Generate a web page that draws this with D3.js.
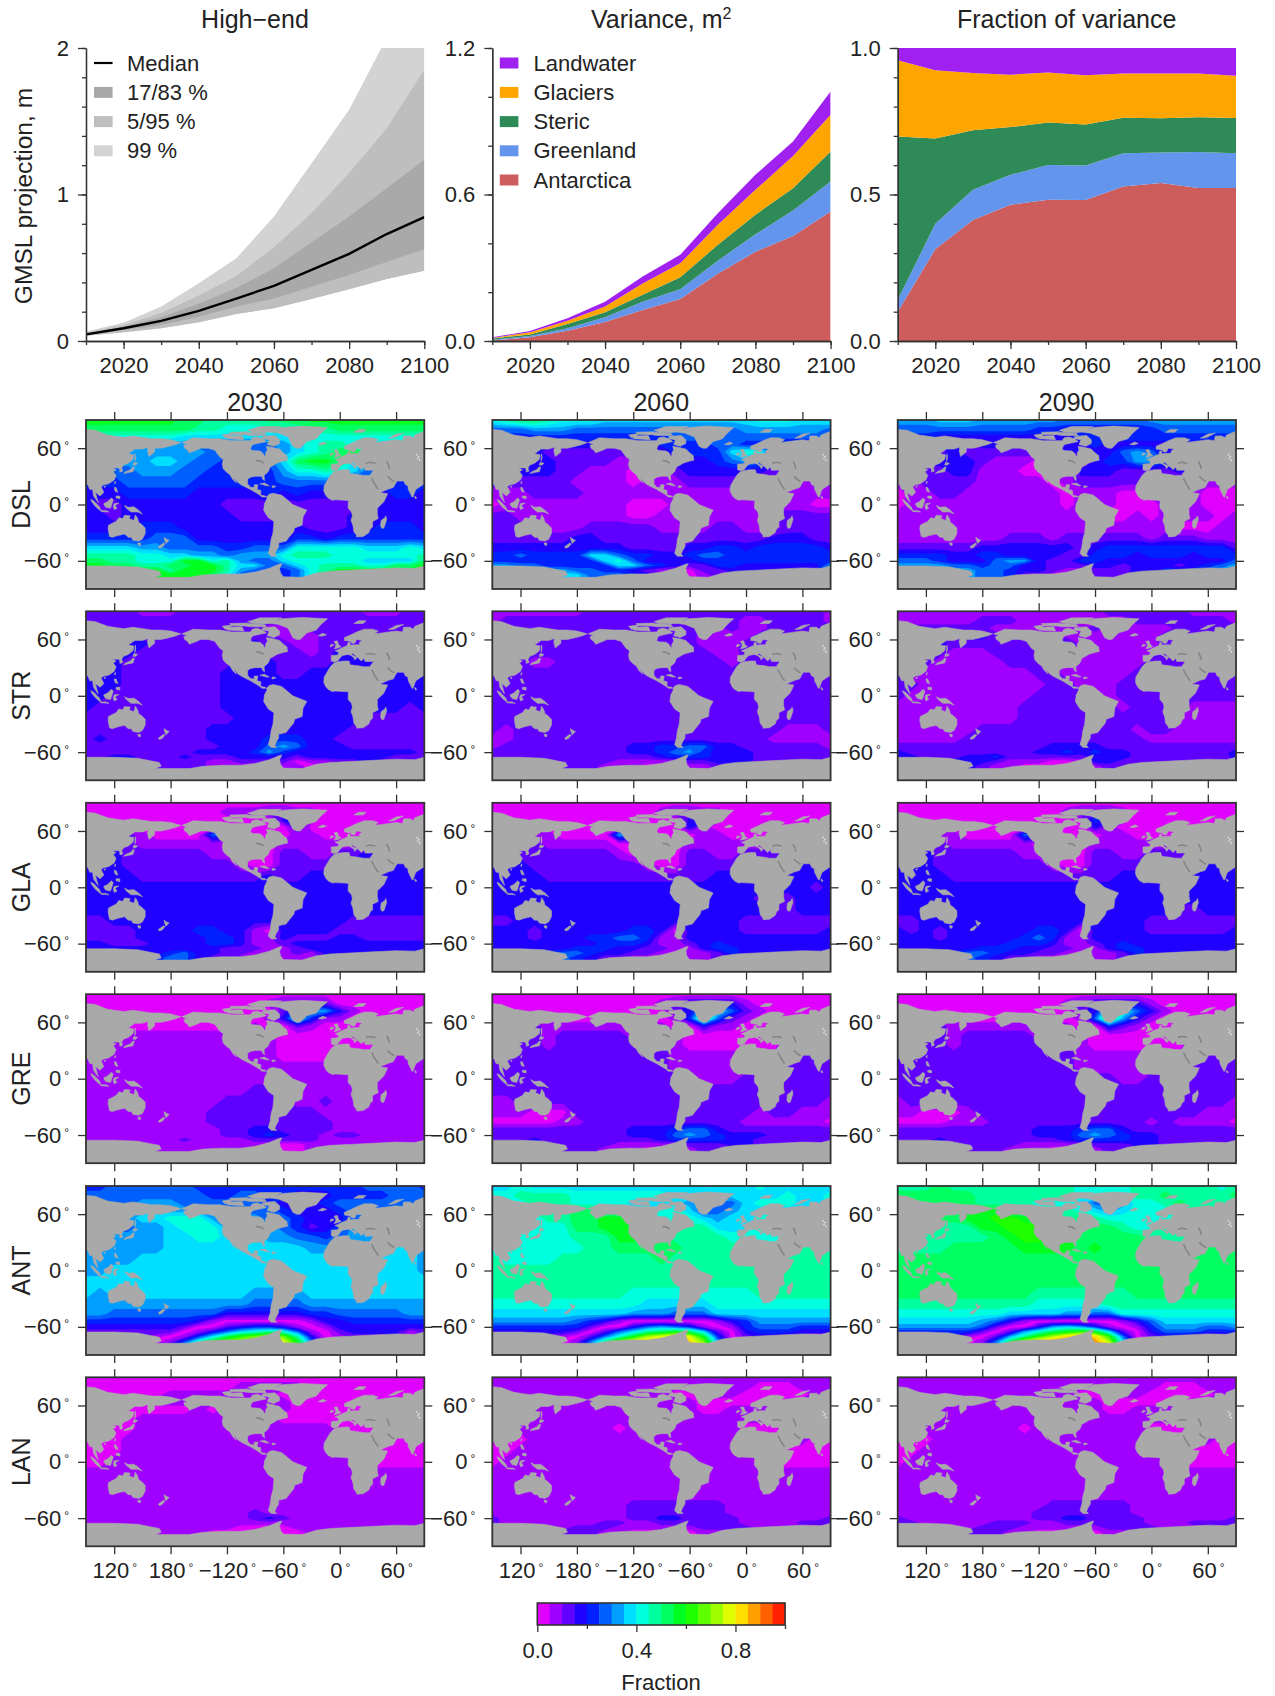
<!DOCTYPE html>
<html>
<head>
<meta charset="utf-8">
<script src="https://cdn.jsdelivr.net/npm/d3@7"></script>
<style>
  body { margin: 0; background: #fff; }
  svg { display: block; }
  text { font-family: "Liberation Sans", Arial, sans-serif; fill: #222; }
</style>
</head>
<body>
<div id="my_dataviz"></div>
<script>
// ---------- top row values ----------
const years = [2010, 2020, 2030, 2040, 2050, 2060, 2070, 2080, 2090, 2100];
const median = [0.045, 0.087, 0.137, 0.205, 0.29, 0.376, 0.485, 0.595, 0.73, 0.845];
const low17 = [0.04, 0.075, 0.11, 0.166, 0.235, 0.29, 0.37, 0.45, 0.54, 0.626];
const high83 = [0.052, 0.098, 0.162, 0.255, 0.362, 0.497, 0.674, 0.85, 1.043, 1.237];
const low5 = [0.036, 0.06, 0.087, 0.128, 0.185, 0.223, 0.287, 0.353, 0.424, 0.48];
const high95 = [0.057, 0.109, 0.191, 0.31, 0.444, 0.64, 0.872, 1.146, 1.453, 1.852];
const high99 = [0.064, 0.125, 0.235, 0.394, 0.565, 0.85, 1.214, 1.579, 2.07, 2.65];

const components = ["Antarctica", "Greenland", "Steric", "Glaciers", "Landwater"];
const componentColors = ["#cd5c5c", "#6495ed", "#2e8b57", "#ffa500", "#a020f0"];
const varAntarctica = [0.002, 0.015, 0.042, 0.078, 0.127, 0.172, 0.275, 0.366, 0.43, 0.53];
const varGreenland = [0.003, 0.005, 0.01, 0.019, 0.034, 0.04, 0.054, 0.071, 0.104, 0.123];
const varSteric = [0.005, 0.007, 0.018, 0.021, 0.028, 0.049, 0.065, 0.08, 0.092, 0.123];
const varGlaciers = [0.002, 0.009, 0.013, 0.023, 0.047, 0.057, 0.082, 0.102, 0.132, 0.151];
const varLandwater = [0.003, 0.005, 0.01, 0.02, 0.028, 0.035, 0.047, 0.062, 0.059, 0.095];
const fracAntarctica = [0.1, 0.313, 0.413, 0.465, 0.482, 0.481, 0.527, 0.539, 0.522, 0.522];
const fracGreenland = [0.04, 0.087, 0.103, 0.102, 0.119, 0.118, 0.114, 0.104, 0.123, 0.119];
const fracSteric = [0.558, 0.291, 0.203, 0.163, 0.145, 0.14, 0.121, 0.117, 0.119, 0.12];
const fracGlaciers = [0.26, 0.233, 0.196, 0.179, 0.17, 0.168, 0.151, 0.153, 0.149, 0.144];
const fracLandwater = [0.042, 0.076, 0.085, 0.091, 0.084, 0.093, 0.087, 0.087, 0.087, 0.095];

// ---------- map panels ----------
const rowNames = ["DSL", "STR", "GLA", "GRE", "ANT", "LAN"];
const mapYears = [2030, 2060, 2090];
const lonTicks = [120, 180, 240, 300, 360, 420];
const lonLabels = ["120", "180", "\u2212120", "\u221260", "0", "60"];
const latTicks = [60, 0, -60];

// 20 colour classes of width 0.05, 0 = magenta ... j = red
const bandColors = ["rgb(223,0,255)", "rgb(159,0,255)", "rgb(96,0,255)", "rgb(32,0,255)",
  "rgb(0,32,255)", "rgb(0,96,255)", "rgb(0,159,255)", "rgb(0,223,255)",
  "rgb(0,255,223)", "rgb(0,255,159)", "rgb(0,255,96)", "rgb(0,255,32)",
  "rgb(32,255,0)", "rgb(96,255,0)", "rgb(159,255,0)", "rgb(223,255,0)",
  "rgb(255,223,0)", "rgb(255,159,0)", "rgb(255,96,0)", "rgb(255,32,0)"];
const bandChars = "0123456789abcdefghij";

// fraction class: one string per latitude, one char per 15 deg from 90E
const gridLat = [90, 80, 72, 64, 56, 46, 36, 24, 12, 0, -12, -24, -36, -46, -54, -60, -65, -70, -75, -80];

const DSL_2030 = ["bbbbbbbaa9999aaabbbbbbbb","aaaaaaaa9988888999aaaaaa","888888877777777888888888","776666665555556789987777",
  "666666666555556789ab9766","666667765544557abba76666","555566655444446889875555","444555554444445555444444",
  "333444443333343433333344","322333333322222222223333","332333333332222222233333","333344433333333322233444",
  "444445553333333443444444","777766555544555888887778","999988776656668999888888","aa99888bb896557888887777",
  "bbaa99aabb977557899988aa","bbbbbb9bbb96544589bbbbbb","bbbbbbbbba8544458bbbbbbb","bbbbbbbbba8544458bbbbbbb"];
const DSL_2060 = ["89aa98887777777777788877","555666555555555555666666","444444444444455555555555","333333333333444455443333",
  "333322222222244447884433","333332222112233345653333","233332211100123333332333","222222111101112222211111",
  "111222211111111111111111","011111111100011111111110","221111111100111111112222","222211122222111122111222",
  "222222332222222222223332","333333333322223344344444","445444477544334554444444","444444447853333444444444",
  "665544444775432244333333","777766554432110223333344","888877755543210122333444","888877755543210122333444"];
const DSL_2090 = ["666777666666555555666666","555555555544444444455555","444333333333344444444444","333332333333334333333333",
  "332232222222333356533333","333333211100003446643333","222233111000133322223222","112222111110122222111111",
  "011221111111011100111100","011111111111011100011100","111111111111111001011110","111111111111111111110001",
  "111111112221222222122211","222222333333323444444444","444433443333224443444344","555433356632244333333333",
  "666655455332223323332345","777766554332112223344456","777776554221112223445667","777776554221112223445667"];
const STR_2030 = ["222211122222222222221112","222222222222222222222222","222222222222211122222222","332222222222221112222222",
  "333332222222322112222333","333322222222322212332222","333222222223332222333322","333222222233332233333333",
  "333222222233333333333333","332222222233333333333333","322222222233333333333332","222222222223333333332222",
  "222222222333333333322222","232222222333344433222222","222222222233356533322222","222222223333464333333333",
  "223322232223333233333322","222322222112222011223222","222322222111001100122222","222322222111001100122222"];
const STR_2060 = ["111111122222222222222222","122222222222222222112222","222222222222222212112222","222222222222222111122222",
  "222222222222222111222222","222222222222222211222222","222112222222222221222222","222222222222222222222222",
  "222222222222222222222222","222222222222222222222222","222222222222222222222222","222222222222222222222222",
  "212222222222222222222111","112222222222222222221111","122222222233445533222222","222222222233456433322222",
  "222222222222344433322222","222332222111112233322222","222332221110001122222222","222332221110001122222222"];
const STR_2090 = ["111111111111111222222111","111111222111111112222222","222222211111112111112222","222223322211111111122222",
  "333322222222311111122233","333211122222211111122222","322111112222111111222222","211111111122111112222222",
  "221111111112211122222222","211111111122222122222222","111111111222222212222111","111111111222222222221111",
  "111111222222222221221111","111112222222222222111111","222222222223333222222222","322222222233434332222222",
  "332223342222223332222222","222233321110013322222222","222233211000001222222222","222233211000001222222222"];
const GLA_2030 = ["000000000000000000000000","000000000011122110000000","000000000000003410000000","110000000000000300000000",
  "222210000541000110000122","333211111100001111110333","333222222110002211223332","333222222221002222233333",
  "333322222222232233333333","333333333333333333333333","333333333333333333333333","333333333333333333333333",
  "223333333333333333322222","222233334433103333222222","222233333443113222332222","332223333443112333333333",
  "333333333322211233333333","333333453322111213333333","333334553221101112233333","333334553221101112233333"];
const GLA_2060 = ["000000000000000000000000","000000000000122110000000","000000000000003410000000","100000000000003100000000",
  "222110000650000110001222","322211111000001111110232","332222222100002211222333","333222222221002222223333",
  "333322222222222233333333","333333333333333333333332","333333333333333333322233","333333333333333333332233",
  "223333333333333333222222","333233333344303333222222","333233344554113333333333","333333334443112343333333",
  "333333444332211344333333","333445543322101124333333","333455432211001123333333","333455432211001123333333"];
const GLA_2090 = ["000000000000000000000000","000000000000122210000000","000000000000014310000000","100000000000003100000000",
  "222110000540000110001222","322211111100001111110232","333222222110002211222333","333222222221002222223333",
  "333322222222222233333333","333333333333333333333333","333333333333333333333333","333333333333333333332233",
  "223333333333333333222222","323233333344303333222222","333233333454113333333333","333333334443112343333333",
  "333333444332211344333333","333345543322101124333333","333455432211001123333333","333455432211001123333333"];
const GRE_2030 = ["000000000000000000000000","000000000000012222000000","000000000000002566310000","110000000000013841100000",
  "111000000000100210000011","111111111111110000001111","111111111111110000000111","111111111111110000111111",
  "111111111111111111111111","111111111111111111111111","111111111111221111111111","111111111122222112111111",
  "111111111222222221111111","111111111222222222111111","111111111122332222111111","111111111122343221221111",
  "111111121111222221111111","111111111111110011111111","111111111111100011111111","111111111111100011111111"];
const GRE_2060 = ["000000000000000000000000","000000000000123333100000","000000000000023775210000","000000000000014b52100000",
  "222211111111100311000012","222212222211110000000222","222212222222210000000222","222222222222211111111222",
  "222222222222211111112222","222222222222222111222222","222222222222222222222222","112222222222222222222222",
  "111000222222222222212211","000001122222222222111111","222222222233345532222222","222222222233356543332222",
  "222322222222344443322222","222232222111112223322222","222232221110001222222222","222232221110001222222222"];
const GRE_2090 = ["000000000000000000000000","000000000000123333100000","000000000000023885310000","000000000000015c63100000",
  "222211111111100421000012","222212222211110000000222","222212222222210000000222","222222222222211111111222",
  "222222222222211111112222","222222222222222211222222","222222222222222222222222","122222222222222222222222",
  "110001222222222222222211","000011122222222222121111","222222222233345532222222","222222222233356543322222",
  "222322222222344443322222","222232222111112223322222","222232221110001222222222","222232221110001222222222"];
const ANT_2030 = ["445555554444444444445555","555555555445544333444455","555566655555543334555555","666666666555554333455566",
  "666677888666655433356666","665566788866665423466666","666666778877766554566666","666666777777777766666777",
  "666677777777777777777777","667777777777777777777777","777777777777777777777777","767777777777666677777777",
  "666666666666555566666666","665555555533333344555556","444444443100000013344444","333333320023443101333333",
  "222222201357898510233331","2222210147acded930122221","111110148bdefffb51011111","00000137befgggfc61000000"];
const ANT_2060 = ["778777777777777777787777","889999888888877777777877","888999888877776655788877","788999aa9888887456777788",
  "788899aabb99888767788888","888888aabbb9889977788888","888888999bbaa99998888888","888888899aaaaa9999999999",
  "988889999999a99999999999","999999999999999999999999","999999999999999999999999","999999999988888888899999",
  "888888888887777788888888","777777777766655577777777","666666543100000013466666","444444420035654101455544",
  "333333202579aba720344433","2222210258befgfb40233221","111110159dfgghgd61011110","00000026bfghhhhf82000000"];
const ANT_2090 = ["999a99999999988889999998","aaaaaa9999999888899a9999","99aaaa99998887556889a999","99aaabbb9999987678889999",
  "999aabbccb999a9888889999","999999bbcccb99aa98899999","9999999abccbbaaaaa999999","9999aaaaabbbbabaaaaaaaaa",
  "aaaaaaaaaaaaaaaaaaaaaaaa","aaaaaaaaaaaaaaaaaaaaaaaa","aaaaaaaaaaaaaaaaaaaaaaaa","aaaaaaaaaa9999999aaaaaaa",
  "999999999988888999999999","888888887777665588888888","777777653100000013577777","666666520036764101466655",
  "44444420268abcb720355544","3333310269ceghgc50233211","11111015aeghhihe71011100","00000026bfhiiiig92000000"];
const LAN_2030 = ["000000000000000000000000","000000000001111100000000","000000111111110000000000","111111111111111000000000",
  "111000001011111000001111","111011111111110000000111","110011111111111111000111","000111111111111111111100",
  "000111111111111111111000","001111111111111111110000","111111111111111111111111","111111111111111111111111",
  "111111111111111111111111","111111111111111111111111","111111111111211111111111","111111111111232111111111",
  "111111111111111111111111","111111111110000111111111","111111111000000011111111","111111111000000011111111"];
const LAN_2060 = ["111111111111111111111111","111111111111111111100011","111111111111100011000001","111111111111111000000111",
  "111111111111111001111111","111111111111111111111111","101111111011111111000111","000111111111111111111110",
  "001111111111111111111000","011111111111111111100000","111111111111111111111111","111111111111111111111111",
  "111111111111111111111111","111111111122222221111111","111111111122222221111111","211111111122332222111111",
  "211111112211222222111122","111111222111111222211111","111112221100000111211111","111112221100000111211111"];
const LAN_2090 = ["111111111111111111111111","111111111111111111100011","111111111111100011000001","111111111111111000000111",
  "111111111111111001111111","111111111111111111111111","101111111011111111000111","000111111111111111111110",
  "001111111111111111111000","011111111111111111100000","111111111111111111111111","111111111111111111111111",
  "111111111111111111111111","111111111112222221111111","111111111122222221111111","211111111122332222111111",
  "221111122211222222111222","211111222111111222211111","111112221100000111211111","111112221100000111211111"];
const fields = [[DSL_2030, DSL_2060, DSL_2090], [STR_2030, STR_2060, STR_2090], [GLA_2030, GLA_2060, GLA_2090],
  [GRE_2030, GRE_2060, GRE_2090], [ANT_2030, ANT_2060, ANT_2090], [LAN_2030, LAN_2060, LAN_2090]];

// land outlines in lon (90..450) / lat
const land = [
  // east Asia
  [[90,80],[100,79],[105,77],[113,74],[130,71.5],[140,73],[160,70],[170,70],[180,69],[191,66],[186,64],[179,62],[170,60],[163,60],[163,56],[157,51],[155.5,57],[156,61],[150,59],[142,59],[135,54],[141,53],[140,48],[135,44],[130,42],[128,39],[129,35.5],[126,34.5],[126,37],[125,39],[121,39],[118,39],[122,37],[119,35],[122,31],[120,26],[114,22],[109,21],[106,19],[109,13],[105,9],[100,13],[103,2],[100,6],[98,9],[97,16],[94,16],[92,21],[90,22]],
  // Africa and west Eurasia
  [[450,22],[447,20],[441,16],[440,13.5],[438,8],[437,8],[435,12],[433,16],[432.5,20],[430,21],[428,25],[421,25],[419.5,22.5],[417,18],[412,16.5],[403,12.7],[411,11.5],[407,3],[400,-4],[400,-10],[401,-15],[395,-18],[395,-24],[392.5,-26],[391,-30],[385,-34],[378,-34.5],[378,-33],[375,-29],[374,-22],[372,-17],[373.5,-12],[372.5,-8],[369,-4],[369,1],[369.5,4],[365,4.5],[355,5],[352,4.5],[347.5,7],[345,10],[343,14.5],[343.5,20],[347,26],[350,31],[354,35],[357,36],[364,37],[370,37],[371,33],[380,32],[385,31],[392,31],[396,36.5],[387,36.5],[386,40],[383,37],[379.5,40.5],[374,45],[372.5,44.3],[374,43],[378.5,41],[376,38],[375.5,40],[372,43],[369,44],[363,43],[360,40],[358,37],[354,36],[351,37],[351,43],[358,43.5],[359,46],[355,48],[358,49],[362,51],[368,53.5],[369,57],[371,56.5],[371,54],[378,54.5],[381,54.5],[381,57],[384,59],[378,60],[376,56],[373,56],[371,58],[365,59],[365,62],[372,65],[378,68],[386,71],[395,71],[401,69],[397,66],[405,67],[412,68],[420,69],[427,68],[428,73],[435,73],[438,71],[440,74],[450,78]],
  // North America
  [[192,66],[197,68],[204,71],[220,70],[232,70],[245,68],[255,68],[265,68],[267,71],[272,72],[278,70],[282,67],[275,65.5],[268,64],[266,62],[265,59],[267,57.5],[275,57],[278,55],[280,51.5],[281,52],[281,55],[283,58],[282,62],[288,61],[292,60],[296,59],[300,55],[304,52],[303,47],[296,45],[293,44],[290,42],[286,40],[284,35],[279.5,31],[280,25.5],[278,27],[277,30],[270,30],[265,29],[262,27],[262,22],[265,18.5],[269,18],[269,21],[273,21],[272,16],[276,15],[276,10],[281,9],[282,8],[277,8],[275,10],[270,13],[265,16],[255,21],[251,24],[247,29],[246,31],[250,23],[246,27],[243,32],[240,34],[236,38],[235,43],[236,48],[232,51],[227,58],[220,60],[212,60],[208,58],[200,55],[198,58],[195,60],[194,63],[198,64.5],[195,65]],
  // South America
  [[282.5,8.5],[285,11],[289,12],[298,10],[303,6],[310,0],[315,-2],[325,-6],[321,-13],[320,-22],[312,-25],[311,-29],[306,-35],[303,-39],[295,-41],[295,-45],[292,-50],[291,-53],[293,-55],[287,-55],[284,-52],[286,-45],[287,-37],[289,-30],[290,-18],[284,-14],[279,-6],[279.5,-3],[280,1],[282.5,6]],
  // Greenland and Arctic islands
  [[284,77.5],[292,79],[298,82],[320,83.5],[347,82],[340,76],[335,70],[325,67],[318,60],[314,60],[310,62],[307,68],[305,72],[295,76]],
  [[278,72.5],[291,73.5],[296,69],[296,65],[290,62],[283,64],[285,69],[278,70]],
  [[240,70],[243,73],[256,73.5],[258,69]],
  [[235,74],[245,75.5],[243,71],[238,71]],
  [[262,79],[275,83],[298,83],[290,78],[280,76.5],[268,77]],
  [[255,75],[262,77],[280,76],[282,73.5],[265,73.5]],
  [[243,77],[262,77.5],[258,74.5],[245,74.5]],
  [[301,47],[304.5,47],[304,50],[303,51.5],[301,49]],
  [[337,64],[342,66.5],[346,65],[341,63.5]],
  [[354,50],[358.5,51],[361.5,52.5],[359,54],[357.5,58.5],[354,58],[356,54],[355,51.5]],
  [[350,52],[354,54],[352,55],[350,54]],
  [[375,77],[380,80],[388,80],[385,77]],
  [[412,70.5],[418,71],[428,76],[420,75]],
  // Caribbean
  [[275,22],[280,23],[285,20],[282,20]],
  [[288,18],[291,18.5],[292,19.5],[288,20]],
  // Australasia and maritime Asia
  [[114,-22],[113.5,-26],[115,-34],[118,-35],[124,-33],[131,-31.5],[135,-35],[138,-35],[140,-38],[146,-39],[150,-37],[153,-31],[153,-25],[149,-21],[146,-19],[145,-15],[142.5,-11],[141,-17],[136,-15],[137,-12],[131,-11.5],[129,-15],[125,-14],[122,-18],[118,-20]],
  [[145,-41],[148,-41],[148,-43.5],[146,-43.5]],
  [[173,-35],[176,-37],[178.5,-38],[175,-41.5],[174,-39]],
  [[172.5,-41],[174,-42],[171,-45.5],[168,-46.5],[167,-45]],
  [[131,-1],[135,-3],[141,-2.5],[146,-6],[150,-10],[145,-8],[138,-8],[133,-4]],
  [[109,1],[113,3],[117,7],[119,5],[117.5,0],[116,-4],[111,-3],[109,0]],
  [[95,5.5],[98,4],[104,-2],[106,-6],[104,-5.5],[100,-2],[96,3]],
  [[105,-6.5],[111,-6.5],[114.5,-8],[106,-7.5]],
  [[120,1],[125,1.5],[121,-1],[123,-4],[120,-5.5],[119,-2]],
  [[120,18],[122,18],[124,13],[121,14]],
  [[122,9],[126,9],[126,6],[122,7]],
  [[120,23],[121.5,25],[121,22]],
  [[109,19],[111,20],[110,18]],
  [[142,46],[143,50],[142.5,54],[142,50]],
  [[130,33],[135,34],[140,35],[141.5,40],[140,40],[137,37],[132,35]],
  [[140,42],[141,45],[145,44],[143,42]],
  [[440,9],[442,7],[441,6],[440,7]],
  [[409,-12],[410,-16],[407,-25],[405,-25.5],[403.5,-23],[404,-17],[408,-14]],
  // Antarctica
  [[90,-65.5],[120,-65.5],[145,-66.5],[160,-69.5],[168,-71],[170,-75],[163,-77.5],[200,-77.5],[215,-75],[235,-74],[255,-74],[270,-72],[285,-68],[296,-63.5],[298.5,-63],[296,-68],[297,-73],[300,-77],[320,-77.5],[335,-73],[350,-71],[370,-70],[390,-69],[420,-67.5],[440,-68],[450,-65.5],[450,-90],[90,-90]]
];
// inland seas that show up darker than the land
const inlandSeas = [
  [[388,44],[392,45],[398,44]],
  [[410,46],[412,42],[413,38]],
  [[394,28],[397,22],[401,16]],
  [[411,30],[414,27],[418,24.5]],
  [[271,47],[276,46],[279,44]]
];
// pale specks over central Asia
const specks = [[443,49],[444,51],[442,53],[445,47]];

// ---------- layout ----------
const width = 1275, height = 1696;
const colX = [86, 492.3, 897.7];
const panelW = 338.3;
const topY = 48, topH = 293;
const rowY = [420, 611.3, 802.8, 994.2, 1186, 1377.3];
const mapH = 169;
const inkColor = "#333";
const tickFont = 22;

const svg = d3.select("#my_dataviz")
  .append("svg")
    .attr("width", width)
    .attr("height", height);

const defs = svg.append("defs");
defs.append("clipPath").attr("id", "top-clip")
  .append("rect").attr("width", panelW).attr("height", topH);
defs.append("clipPath").attr("id", "map-clip")
  .append("rect").attr("width", panelW).attr("height", mapH);

// style an axis group the same way everywhere
function styleAxis(g) {
  g.selectAll("path,line").attr("stroke", inkColor).attr("stroke-width", 1.3);
  g.selectAll("text").attr("font-size", tickFont).attr("fill", "#222").attr("font-family", '"Liberation Sans"');
}

// ---------- top charts ----------
const xYear = d3.scaleLinear().domain([2010, 2100]).range([0, panelW]);
const majorYears = [2020, 2040, 2060, 2080, 2100];

function topPanel(col, yMax, majors, minorStep, fmt) {
  const g = svg.append("g").attr("transform", `translate(${colX[col]},${topY})`);
  const y = d3.scaleLinear().domain([0, yMax]).range([topH, 0]);
  const marks = g.append("g").attr("clip-path", "url(#top-clip)");
  return {g, y, marks, draw() {
    g.append("g").attr("transform", `translate(0,${topH})`)
      .call(d3.axisBottom(xYear).tickValues(years).tickSize(4).tickFormat("").tickSizeOuter(0))
      .call(styleAxis);
    g.append("g").attr("transform", `translate(0,${topH})`)
      .call(d3.axisBottom(xYear).tickValues(majorYears).tickSize(8).tickPadding(8).tickFormat(d3.format("d")).tickSizeOuter(0))
      .call(styleAxis);
    g.append("g")
      .call(d3.axisLeft(y).tickValues(d3.range(0, yMax + 1e-6, minorStep)).tickSize(4).tickFormat("").tickSizeOuter(0))
      .call(styleAxis);
    g.append("g")
      .call(d3.axisLeft(y).tickValues(majors).tickSize(8).tickPadding(9).tickFormat(fmt).tickSizeOuter(0))
      .call(styleAxis);
  }};
}

// High-end panel
const p1 = topPanel(0, 2, [0, 1, 2], 0.2, d3.format("d"));
const bandArea = (lo, hi) => d3.area()
  .x((d, i) => xYear(years[i]))
  .y0((d, i) => p1.y(lo[i]))
  .y1((d, i) => p1.y(hi[i]))(years);
p1.marks.append("path").attr("d", bandArea(low5, high99)).attr("fill", "#d3d3d3");
p1.marks.append("path").attr("d", bandArea(low5, high95)).attr("fill", "#bebebe");
p1.marks.append("path").attr("d", bandArea(low17, high83)).attr("fill", "#a9a9a9");
p1.marks.append("path")
  .attr("d", d3.line().x((d, i) => xYear(years[i])).y(d => p1.y(d))(median))
  .attr("fill", "none").attr("stroke", "#000").attr("stroke-width", 2.4);
p1.draw();

// stacked panels
function stackedPanel(col, yMax, majors, minorStep, seriesArrays) {
  const p = topPanel(col, yMax, majors, minorStep, d3.format(".1f"));
  const rows = years.map((yr, i) => {
    const r = {year: yr};
    components.forEach((c, k) => { r[c] = seriesArrays[k][i]; });
    return r;
  });
  const layers = d3.stack().keys(components)(rows);
  p.marks.selectAll("path").data(layers).join("path")
    .attr("fill", (d, i) => componentColors[i])
    .attr("d", d3.area().x(d => xYear(d.data.year)).y0(d => p.y(d[0])).y1(d => p.y(d[1])));
  p.draw();
}
stackedPanel(1, 1.2, [0, 0.6, 1.2], 0.2, [varAntarctica, varGreenland, varSteric, varGlaciers, varLandwater]);
stackedPanel(2, 1, [0, 0.5, 1], 0.1, [fracAntarctica, fracGreenland, fracSteric, fracGlaciers, fracLandwater]);

// titles
const titles = ["High\u2212end", "Variance, m", "Fraction of variance"];
const colCenter = colX.map(x => x + panelW / 2 - 0.2);
titles.forEach((t, i) => {
  const tx = svg.append("text").attr("x", colCenter[i]).attr("y", 28)
    .attr("text-anchor", "middle").attr("font-size", 25).text(t);
  if (i === 1) tx.append("tspan").attr("dy", -9).attr("font-size", 16).text("2");
});
svg.append("text").attr("transform", `translate(32,${topY + topH / 2 + 1.5}) rotate(-90)`)
  .attr("text-anchor", "middle").attr("font-size", 24.6).text("GMSL projection, m");

// legends
const legendY = [63, 92.4, 121.6, 150.8];
const legend1 = ["Median", "17/83 %", "5/95 %", "99 %"];
const legend1Colors = [null, "#a9a9a9", "#bebebe", "#d3d3d3"];
legend1.forEach((t, i) => {
  if (i === 0) {
    svg.append("line").attr("x1", 94).attr("x2", 112.6).attr("y1", legendY[0]).attr("y2", legendY[0])
      .attr("stroke", "#000").attr("stroke-width", 2.2);
  } else {
    svg.append("rect").attr("x", 94).attr("y", legendY[i] - 5.5).attr("width", 18.6).attr("height", 11)
      .attr("fill", legend1Colors[i]);
  }
  svg.append("text").attr("x", 127).attr("y", legendY[i] + 7.5).attr("font-size", tickFont).text(t);
});
const legend2 = ["Landwater", "Glaciers", "Steric", "Greenland", "Antarctica"];
const legend2Y = [63, 92.4, 121.6, 150.8, 180];
legend2.forEach((t, i) => {
  svg.append("rect").attr("x", 499.8).attr("y", legend2Y[i] - 5.5).attr("width", 18.6).attr("height", 11)
    .attr("fill", componentColors[components.indexOf(t)]);
  svg.append("text").attr("x", 533.5).attr("y", legend2Y[i] + 7.5).attr("font-size", tickFont).text(t);
});

// ---------- maps ----------
const xLon = d3.scaleLinear().domain([90, 450]).range([0, panelW]);
const yLat = d3.scaleLinear().domain([90, -90]).range([0, mapH]);
const lonOfCell = d3.scaleLinear().domain([0, 24]).range([90, 450]);
const latOfCell = d3.scaleLinear().domain(d3.range(gridLat.length)).range(gridLat);
const gridPath = d3.geoPath(d3.geoTransform({
  point(cx, cy) {
    this.stream.point(xLon(lonOfCell(cx - 0.5)), yLat(latOfCell(cy - 0.5)));
  }
}));
const landLine = d3.line().x(d => xLon(d[0])).y(d => yLat(d[1]));
const thresholds = bandColors.slice(1).map((c, i) => (i + 1) * 0.05);
const contourMaker = d3.contours().size([25, gridLat.length]).thresholds(thresholds).smooth(true);

function readField(rows) {
  const values = [];
  rows.forEach(r => {
    const chars = r + r[0];      // the map wraps, 450 is 90 again
    for (const ch of chars) values.push((bandChars.indexOf(ch) + 0.5) / 20);
  });
  return values;
}

function degreeLabels(axisG, labels) {
  axisG.selectAll(".tick text").each(function(d, i) {
    const t = d3.select(this);
    t.text(labels ? labels[i] : (d < 0 ? "\u2212" + (-d) : d));
    t.append("tspan").attr("dx", 3).attr("dy", -6).attr("font-size", 12).text("\u00b0");
  });
}

rowNames.forEach((name, r) => {
  mapYears.forEach((yr, c) => {
    const g = svg.append("g").attr("transform", `translate(${colX[c]},${rowY[r]})`);
    const clipped = g.append("g").attr("clip-path", "url(#map-clip)");
    const inner = clipped.append("g").style("filter", "blur(0.7px)");
    inner.append("rect").attr("x", -3).attr("y", -3).attr("width", panelW + 6).attr("height", mapH + 6).attr("fill", bandColors[0]);
    inner.append("g").selectAll("path")
      .data(contourMaker(readField(fields[r][c])))
      .join("path")
        .attr("d", gridPath)
        .attr("fill", (d, i) => bandColors[i + 1]);
    inner.append("g").selectAll("path").data(land).join("path")
      .attr("d", d => landLine(d) + "Z")
      .attr("fill", "#a9a9a9")
      .attr("stroke", "#a9a9a9").attr("stroke-width", 0.6);
    inner.append("g").selectAll("path").data(inlandSeas).join("path")
      .attr("d", landLine)
      .attr("fill", "none").attr("stroke", "#858585").attr("stroke-width", 1.6);
    inner.append("g").selectAll("circle").data(specks).join("circle")
      .attr("cx", d => xLon(d[0])).attr("cy", d => yLat(d[1])).attr("r", 0.8).attr("fill", "#eee");

    g.append("g").call(d3.axisTop(xLon).tickValues(lonTicks).tickSize(8).tickFormat("").tickSizeOuter(0))
      .call(styleAxis).select(".domain").remove();
    g.append("g").attr("transform", `translate(${panelW},0)`)
      .call(d3.axisRight(yLat).tickValues(latTicks).tickSize(8).tickFormat("").tickSizeOuter(0))
      .call(styleAxis).select(".domain").remove();
    const bottom = g.append("g").attr("transform", `translate(0,${mapH})`)
      .call(d3.axisBottom(xLon).tickValues(lonTicks).tickSize(8).tickPadding(8).tickSizeOuter(0))
      .call(styleAxis);
    bottom.select(".domain").remove();
    if (r === rowNames.length - 1) degreeLabels(bottom, lonLabels);
    else bottom.selectAll("text").remove();
    const left = g.append("g")
      .call(d3.axisLeft(yLat).tickValues(latTicks).tickSize(8).tickPadding(9).tickSizeOuter(0))
      .call(styleAxis);
    left.select(".domain").remove();
    degreeLabels(left);
    g.append("rect").attr("width", panelW).attr("height", mapH)
      .attr("fill", "none").attr("stroke", inkColor).attr("stroke-width", 1.8);
  });
  svg.append("text").attr("transform", `translate(30,${rowY[r] + mapH / 2}) rotate(-90)`)
    .attr("text-anchor", "middle").attr("font-size", 25).text(name);
});
mapYears.forEach((yr, c) => {
  svg.append("text").attr("x", colCenter[c]).attr("y", 410.5)
    .attr("text-anchor", "middle").attr("font-size", 25).text(yr);
});

// ---------- colour bar ----------
const cbar = svg.append("g").attr("transform", "translate(537.3,1603)");
const cbarW = 247.7, cbarH = 22;
const xFrac = d3.scaleLinear().domain([0, 1]).range([0, cbarW]);
cbar.selectAll("rect").data(bandColors).join("rect")
  .attr("x", (d, i) => xFrac(i * 0.05))
  .attr("width", xFrac(0.05) + 0.4)
  .attr("height", cbarH)
  .attr("fill", d => d);
cbar.append("rect").attr("width", cbarW).attr("height", cbarH)
  .attr("fill", "none").attr("stroke", inkColor).attr("stroke-width", 1.6);
cbar.append("g").attr("transform", `translate(0,${cbarH})`)
  .call(d3.axisBottom(xFrac).tickValues([0.2, 0.6, 1]).tickSize(4).tickFormat("").tickSizeOuter(0))
  .call(styleAxis).select(".domain").remove();
cbar.append("g").attr("transform", `translate(0,${cbarH})`)
  .call(d3.axisBottom(xFrac).tickValues([0, 0.4, 0.8]).tickSize(7).tickPadding(10).tickFormat(d3.format(".1f")).tickSizeOuter(0))
  .call(styleAxis).select(".domain").remove();
svg.append("text").attr("x", 661).attr("y", 1690).attr("text-anchor", "middle").attr("font-size", tickFont).text("Fraction");
</script>
</body>
</html>
